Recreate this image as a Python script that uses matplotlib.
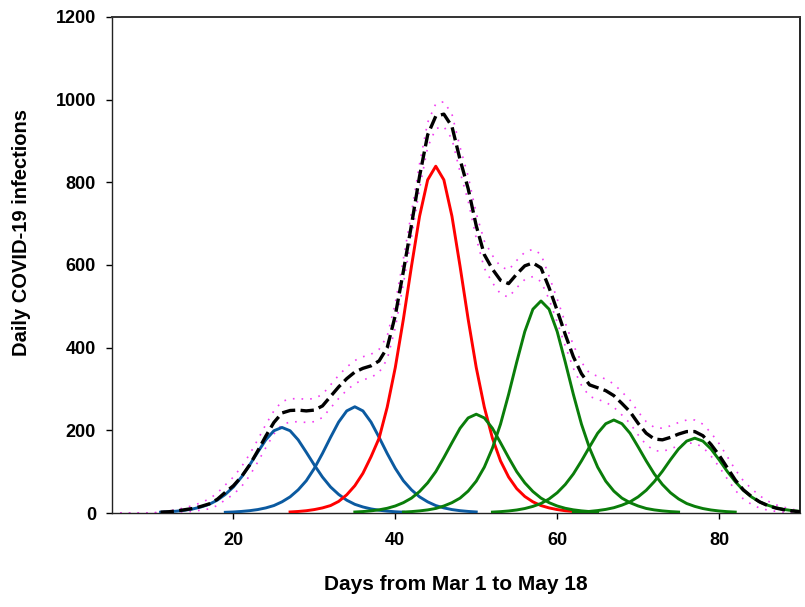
import matplotlib
matplotlib.use("Agg")
import matplotlib.pyplot as plt
import numpy as np

plt.rcParams['font.family'] = ['Liberation Sans', 'DejaVu Sans']

# ---- data ----
# component curves: first day and daily values
blue1_start = 11
blue1 = [2.0, 3.0, 4.5, 6.7, 9.9, 14.6, 21, 31, 45, 63, 87, 116, 147, 177, 199, 207,
         199, 177, 147, 116, 87, 63, 45, 31, 21, 14.6, 9.9, 6.7, 4.5, 3.0, 2.0]

blue2_start = 19
blue2 = [1.7, 2.5, 3.8, 5.6, 8.3, 12.3, 18, 27, 39, 56, 78, 108, 144, 183, 220, 247, 257,
         247, 220, 183, 144, 108, 78, 56, 39, 27, 18, 12.3, 8.3, 5.6, 3.8, 2.5]

red_start = 27
red = [2.5, 3.7, 5.5, 8.3, 12.3, 18, 28, 44, 66, 96, 136, 181, 256, 352, 469, 597, 718, 806, 839,
       806, 718, 597, 469, 352, 256, 181, 126, 87, 59, 40, 27, 18, 12.3, 8.3, 5.5, 3.7, 2.5]

green1_start = 35
green1 = [2.4, 3.5, 5.2, 7.7, 11.4, 17, 25, 36, 52, 73, 100, 134, 170, 205, 230, 239,
          230, 205, 170, 134, 100, 73, 52, 36, 25, 17, 11.4, 7.7, 5.2, 3.5, 2.4]

green2_start = 41
green2 = [2.3, 3.4, 5.1, 7.5, 11, 17, 25, 36, 53, 77, 111, 157, 215, 287, 365, 439, 493, 513,
          493, 439, 365, 287, 215, 157, 111, 77, 53, 36, 25, 17, 11, 7.5, 5.1, 3.4, 2.3]

green3_start = 52
green3 = [2.2, 3.3, 4.9, 7.3, 10.8, 16, 23, 34, 49, 69, 94.5, 126, 160, 193, 216, 225,
          216, 193, 160, 126, 94.5, 69, 49, 34, 23, 16, 10.8, 7.3, 4.9, 3.3, 2.2]

green4_start = 62
green4 = [1.8, 2.7, 3.9, 5.9, 8.7, 12.8, 19, 27, 39, 55, 76, 101, 129, 155, 174, 181,
          174, 155, 129, 101, 76, 55, 39, 27, 19, 12.8, 8.7, 5.9, 3.9]

# total (black dashed), days 11..90
total_start = 11
total = [2, 3, 5, 8, 11, 16, 22, 33, 50, 66, 88, 116, 150, 186, 219, 242, 248, 249, 247, 249,
         259, 282, 305, 325, 341, 350, 356, 368, 400, 478, 585, 697, 815, 915, 960, 965, 935,
         855, 785, 695, 625, 590, 563, 555, 578, 598, 605, 593, 545, 490, 432, 378, 337, 310,
         303, 296, 284, 265, 245, 217, 193, 179, 177, 183, 191, 197, 197, 187, 166, 140, 110,
         80, 56, 40, 27, 18, 12, 8, 5, 3]

# pink band half-width, days 6..90
band_start = 6
band = ([0, 0, 0, 0, 0]                                          # days 6-10
        + [1, 2, 3, 5, 7, 9, 12, 15, 18, 21, 24, 26, 27]          # days 11-23
        + [28] * 16                                              # days 24-39
        + [30] * 11                                              # days 40-50
        + [33] * 8                                               # days 51-58
        + [28] * 22                                              # days 59-80
        + [27, 25, 22, 19, 15, 11, 8, 6, 4, 3])                  # days 81-90

x_ticks = [20, 40, 60, 80]
y_ticks = [0, 200, 400, 600, 800, 1000, 1200]

BLUE = '#0b5aa0'
GREEN = '#0a7d0a'
RED = '#ff0000'
PINK = '#f23cf2'

fig = plt.figure(figsize=(8.05, 6.07), dpi=100)
ax = fig.add_axes([112/805, 1-513/607, (800-112)/805, (513-17)/607])


def days(start, vals):
    return np.arange(start, start + len(vals))


# pink band
bd = days(band_start, band)
td = days(total_start, total)
tot_full = np.zeros(len(band))
tot_full[(td - band_start)] = total
upper = tot_full + np.array(band)
lower = np.clip(tot_full - np.array(band), 0, None)
for yy in (upper, lower):
    ax.plot(bd, yy, color=PINK, lw=1.2, linestyle=(0, (1, 4.2)), zorder=2, clip_on=False)

lw = 2.1
for st, vals, c in [(blue1_start, blue1, BLUE), (blue2_start, blue2, BLUE),
                    (red_start, red, RED),
                    (green1_start, green1, GREEN), (green2_start, green2, GREEN),
                    (green3_start, green3, GREEN), (green4_start, green4, GREEN)]:
    ax.plot(days(st, vals), vals, color=c, lw=lw, zorder=3, solid_joinstyle='round')

ax.plot(td, total, color='black', lw=2.4, linestyle=(0, (4, 1.6)), zorder=4)

ax.set_xlim(5, 90)
ax.set_ylim(0, 1200)
ax.set_xticks(x_ticks)
ax.set_yticks(y_ticks)
ax.tick_params(axis='both', direction='out', length=4.5, width=1, color='black',
               labelsize=13, top=False, right=False)
ax.tick_params(axis='y', pad=7)
ax.tick_params(axis='x', pad=9)
for lab in ax.get_xticklabels() + ax.get_yticklabels():
    lab.set_fontweight('bold')
for sp in ax.spines.values():
    sp.set_linewidth(1.0)
    sp.set_color('#222222')
ax.spines['top'].set_color('#333333')
ax.spines['top'].set_linewidth(1.4)
ax.spines['right'].set_linewidth(1.4)

fig.text(456/805, 1-584/607, 'Days from Mar 1 to May 18', ha='center', va='center',
         fontsize=15, fontweight='bold')
fig.text(22/805, 1-232/607, 'Daily COVID-19 infections', ha='center', va='center',
         rotation=90, fontsize=14.5, fontweight='bold')

fig.savefig('out.png', dpi=100)
